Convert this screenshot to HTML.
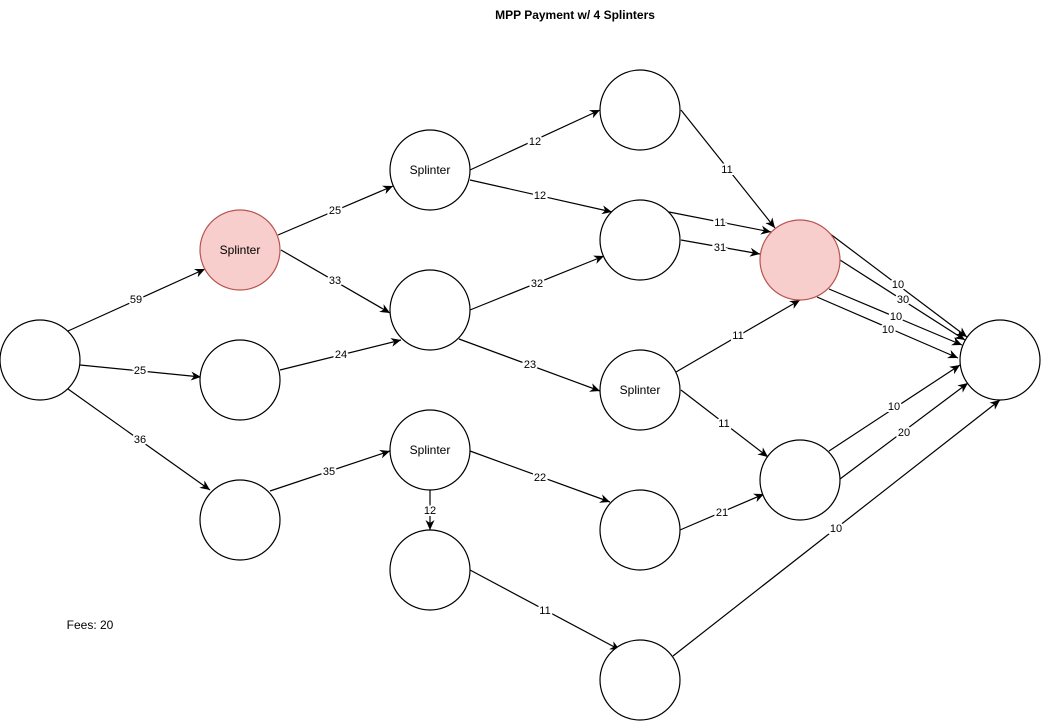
<!DOCTYPE html>
<html><head><meta charset="utf-8"><style>
body{margin:0;background:#fff;}
svg text{font-family:"Liberation Sans",sans-serif;}
</style></head><body>
<svg width="1041" height="721" viewBox="0 0 1041 721" xmlns="http://www.w3.org/2000/svg">
<defs>
<marker id="a" markerWidth="11" markerHeight="9" refX="10" refY="4.5" orient="auto" markerUnits="userSpaceOnUse">
<path d="M0,0 L10,4.5 L0,9 L3,4.5 z" fill="#000"/>
</marker>
</defs>
<text x="575" y="19" font-size="12" font-weight="bold" text-anchor="middle">MPP Payment w/ 4 Splinters</text>
<text x="90" y="629" font-size="12" text-anchor="middle">Fees: 20</text>
<g stroke="#000" stroke-width="1.2" fill="none" marker-end="url(#a)">
<line x1="68" y1="331" x2="205" y2="269"/>
<line x1="80" y1="365" x2="201" y2="377"/>
<line x1="68" y1="389" x2="210" y2="490"/>
<line x1="278" y1="235" x2="393" y2="186"/>
<line x1="281" y1="250" x2="390" y2="313"/>
<line x1="280" y1="370" x2="401" y2="340"/>
<line x1="270" y1="491" x2="390" y2="451"/>
<line x1="470" y1="170" x2="600" y2="110"/>
<line x1="470" y1="180" x2="612" y2="212"/>
<line x1="470" y1="310" x2="604" y2="256"/>
<line x1="459" y1="339" x2="600" y2="391"/>
<line x1="470" y1="451" x2="610" y2="502"/>
<line x1="430" y1="490" x2="430" y2="530"/>
<line x1="470" y1="570" x2="620" y2="650"/>
<line x1="681" y1="110" x2="775" y2="228"/>
<line x1="669" y1="212" x2="771" y2="232"/>
<line x1="681" y1="240" x2="760" y2="254"/>
<line x1="676" y1="372" x2="800" y2="300"/>
<line x1="681" y1="390" x2="768" y2="457"/>
<line x1="680" y1="530" x2="764" y2="494"/>
<line x1="829" y1="451" x2="960" y2="365"/>
<line x1="840" y1="479" x2="968" y2="383"/>
<line x1="673" y1="656" x2="1000" y2="400"/>
<line x1="829" y1="233" x2="967" y2="337"/>
<line x1="840" y1="260" x2="965" y2="340"/>
<line x1="829" y1="289" x2="962" y2="345"/>
<line x1="817" y1="297" x2="958" y2="358"/>
</g>
<g stroke="#000" stroke-width="1.2" fill="#fff">
<circle cx="40" cy="360" r="40"/>
<circle cx="240" cy="250" r="40" fill="#f8cecc" stroke="#b85450"/>
<circle cx="240" cy="380" r="40"/>
<circle cx="240" cy="520" r="40"/>
<circle cx="430" cy="170" r="40"/>
<circle cx="430" cy="310" r="40"/>
<circle cx="430" cy="450" r="40"/>
<circle cx="430" cy="570" r="40"/>
<circle cx="640" cy="110" r="40"/>
<circle cx="640" cy="240" r="40"/>
<circle cx="640" cy="390" r="40"/>
<circle cx="640" cy="530" r="40"/>
<circle cx="640" cy="680" r="40"/>
<circle cx="800" cy="260" r="40" fill="#f8cecc" stroke="#b85450"/>
<circle cx="800" cy="480" r="40"/>
<circle cx="1000" cy="360" r="40"/>
</g>
<g font-size="12" text-anchor="middle">
<text x="240" y="254">Splinter</text>
<text x="430" y="174">Splinter</text>
<text x="430" y="454">Splinter</text>
<text x="640" y="394">Splinter</text>
</g>
<g font-size="11" text-anchor="middle" paint-order="stroke" stroke="#fff" stroke-width="4">
<text x="136" y="303">59</text>
<text x="140" y="374">25</text>
<text x="140" y="443">36</text>
<text x="335" y="214">25</text>
<text x="335" y="284">33</text>
<text x="341" y="358">24</text>
<text x="329" y="475">35</text>
<text x="535" y="145">12</text>
<text x="540" y="199">12</text>
<text x="537" y="287">32</text>
<text x="530" y="368">23</text>
<text x="540" y="481">22</text>
<text x="430" y="514">12</text>
<text x="545" y="614">11</text>
<text x="727" y="173">11</text>
<text x="720" y="226">11</text>
<text x="720" y="251">31</text>
<text x="738" y="339">11</text>
<text x="724" y="427">11</text>
<text x="722" y="516">21</text>
<text x="894" y="410">10</text>
<text x="904" y="436">20</text>
<text x="836" y="532">10</text>
<text x="898" y="288">10</text>
<text x="903" y="303">30</text>
<text x="896" y="320">10</text>
<text x="888" y="333">10</text>
</g>
</svg>
</body></html>
